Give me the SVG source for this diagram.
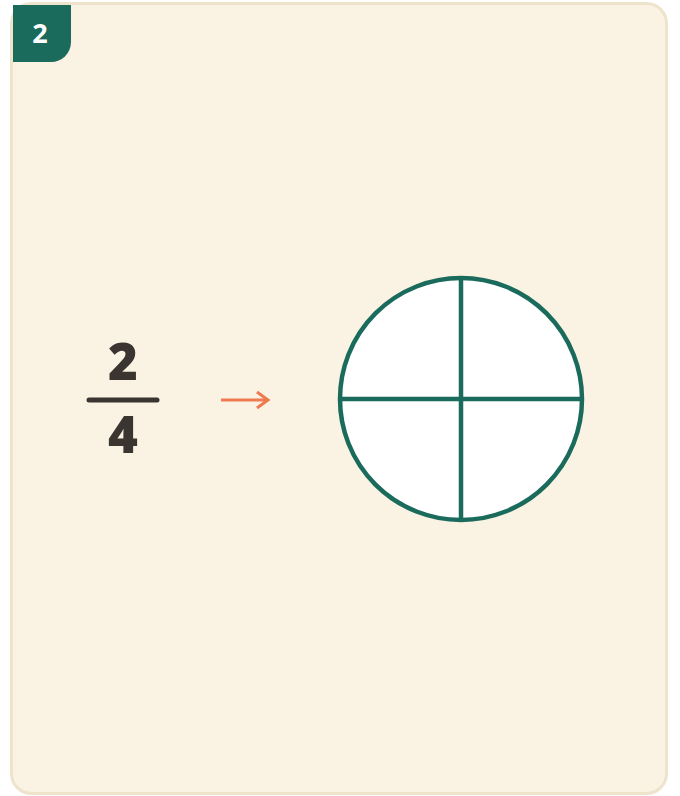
<svg xmlns="http://www.w3.org/2000/svg" width="680" height="796" viewBox="0 0 680 796">
<style>
.card{fill:#FAF3E3;stroke:#EEE3CB;stroke-width:3}
.badge{fill:#1A6B5C}
.badgetxt{font-family:"Open Sans","Noto Sans",sans-serif;font-weight:700;font-size:27px;fill:#FFFFFF}
.num{font-family:"Open Sans","Noto Sans",sans-serif;font-weight:800;font-size:51px;fill:#3A3530}
.bar{stroke:#3A3530;stroke-width:5;stroke-linecap:round}
.conn{fill:none;stroke:#F07A50;stroke-width:3}
.pie{fill:#FFFFFF;stroke:#1A6B5C;stroke-width:4.5}
.div{stroke:#1A6B5C;stroke-width:4.5}
</style>
<rect class="card" x="11.5" y="3.5" width="655" height="790" rx="20"/>
<g id="badge">
<path class="badge" d="M13 5 H71 V42 A20 20 0 0 1 51 62 H13 Z"/>
<text class="badgetxt" x="40" y="43" text-anchor="middle">2</text>
</g>
<g id="fraction">
<text class="num" x="123" y="380" text-anchor="middle">2</text>
<line class="bar" x1="89" y1="400" x2="157" y2="400"/>
<text class="num" x="123" y="453" text-anchor="middle">4</text>
</g>
<g id="connectors">
<path class="conn" d="M221 400 H267"/>
<path class="conn" d="M257 392 L268 400 L257 408" stroke-linejoin="miter"/>
</g>
<g id="circle">
<circle class="pie" cx="461" cy="399" r="121"/>
<line class="div" x1="461" y1="278" x2="461" y2="520"/>
<line class="div" x1="340" y1="399" x2="582" y2="399"/>
</g>
</svg>
